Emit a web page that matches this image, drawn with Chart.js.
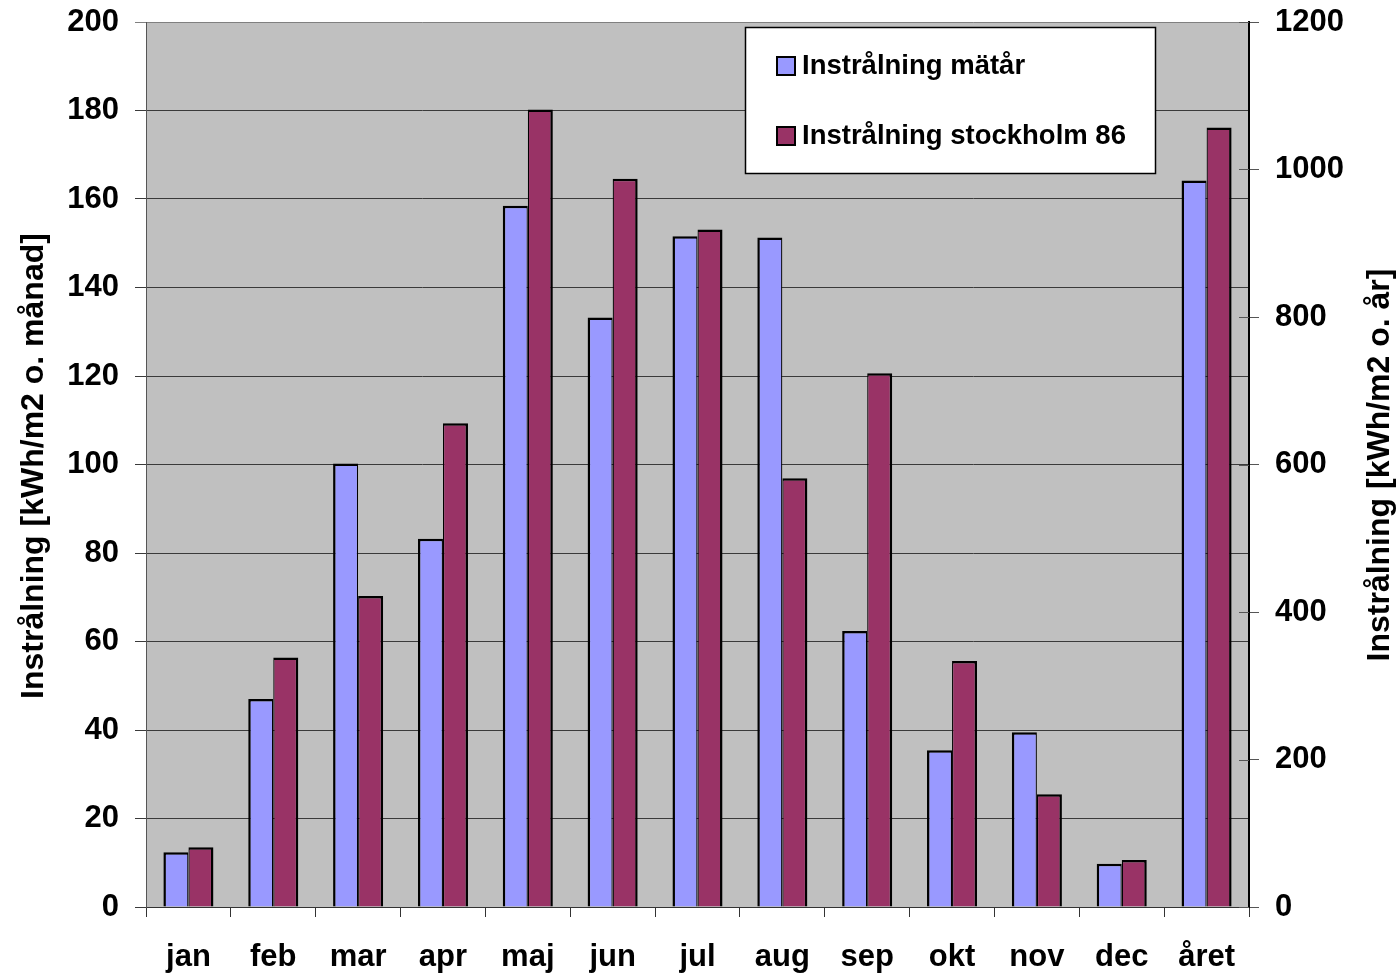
<!DOCTYPE html>
<html>
<head>
<meta charset="utf-8">
<title>Instrålning</title>
<script src="https://cdn.jsdelivr.net/npm/chart.js@4.4.0/dist/chart.umd.min.js"></script>
<style>
    html, body { margin: 0; padding: 0; background: #fff; }
    #wrap { width: 1400px; height: 980px; position: relative; }
</style>
</head>
<body>
<div id="wrap"><canvas id="barChart"></canvas></div>
<script>
// månader + årssumma
const categories = ['jan', 'feb', 'mar', 'apr', 'maj', 'jun', 'jul', 'aug', 'sep', 'okt', 'nov', 'dec', 'året'];
const matarManad = [12.4, 47.0, 100.2, 83.2, 158.5, 133.2, 151.6, 151.3, 62.4, 35.4, 39.5, 9.8];
const stockholmManad = [13.5, 56.4, 70.3, 109.3, 180.2, 164.6, 153.1, 96.9, 120.6, 55.6, 25.5, 10.6];
const matarAr = 985;
const stockholmAr = 1057;
const seriesNames = ['Instrålning mätår', 'Instrålning stockholm 86'];
const leftAxis = { min: 0, max: 200, step: 20, title: 'Instrålning [kWh/m2 o. månad]' };
const rightAxis = { min: 0, max: 1200, step: 200, title: 'Instrålning [kWh/m2 o. år]' };

const FONT = 'Arial, "Liberation Sans", sans-serif';
const BLUE = '#9999FF';
const MAROON = '#993366';
const PLOT_BG = '#C0C0C0';

// månadsvärden på vänster axel, årsvärden på höger
const monthOnly = arr => arr.concat([null]);
const yearOnly = v => categories.map((c, i) => (i === categories.length - 1 ? v : null));

const leftBorder = { top: 2.5, left: 2.5, right: 1.25, bottom: 0 };
const rightBorder = { top: 2.5, left: 1.25, right: 2.5, bottom: 0 };

function noPad(scale) {
    scale.paddingTop = 0;
    scale.paddingBottom = 0;
}

const overlay = {
    id: 'overlay',
    beforeDraw(chart) {
        // grå bakgrund i ritytan
        const a = chart.chartArea;
        chart.ctx.save();
        chart.ctx.fillStyle = PLOT_BG;
        chart.ctx.fillRect(a.left, a.top, a.right - a.left, a.bottom - a.top);
        chart.ctx.restore();
    },
    afterDraw(chart) {
        const ctx = chart.ctx;
        const area = chart.chartArea;
        const y1 = chart.scales.y1;

        // höger axel: tickmarkeringar korsar axeln
        ctx.save();
        ctx.strokeStyle = '#555';
        ctx.lineWidth = 1;
        y1.ticks.forEach(t => {
            const py = Math.round(y1.getPixelForValue(t.value)) + 0.5;
            ctx.beginPath();
            ctx.moveTo(area.right - 10, py);
            ctx.lineTo(area.right, py);
            ctx.stroke();
        });
        ctx.restore();

        // axeltitlar, båda läses nedifrån och upp
        ctx.save();
        ctx.fillStyle = '#000';
        ctx.font = 'bold 32px ' + FONT;
        ctx.textAlign = 'center';
        ctx.textBaseline = 'middle';
        ctx.translate(34, 466);
        ctx.rotate(-Math.PI / 2);
        ctx.fillText(leftAxis.title, 0, 0);
        ctx.restore();

        ctx.save();
        ctx.fillStyle = '#000';
        ctx.font = 'bold 32px ' + FONT;
        ctx.textAlign = 'center';
        ctx.textBaseline = 'middle';
        ctx.translate(1380, 465);
        ctx.rotate(-Math.PI / 2);
        ctx.fillText(rightAxis.title, 0, 0);
        ctx.restore();

        // förklaring
        ctx.save();
        ctx.fillStyle = '#fff';
        ctx.fillRect(745, 27, 410, 146);
        ctx.strokeStyle = '#000';
        ctx.lineWidth = 1.5;
        ctx.strokeRect(745.5, 27.5, 410, 146);
        const rows = [57, 127];
        ctx.font = 'bold 27.5px ' + FONT;
        ctx.textBaseline = 'alphabetic';
        ctx.textAlign = 'left';
        chart.data.datasets.slice(0, 2).forEach((ds, i) => {
            ctx.fillStyle = ds.backgroundColor;
            ctx.fillRect(777, rows[i], 18, 18);
            ctx.strokeStyle = '#000';
            ctx.lineWidth = 2;
            ctx.strokeRect(777, rows[i], 18, 18);
            ctx.fillStyle = '#000';
            ctx.fillText(ds.label, 802, rows[i] + 16.5);
        });
        ctx.restore();
    }
};

const ctx = document.getElementById('barChart').getContext('2d');
new Chart(ctx, {
    type: 'bar',
    data: {
        labels: categories,
        datasets: [
            {
                label: seriesNames[0],
                data: monthOnly(matarManad),
                yAxisID: 'y',
                backgroundColor: BLUE,
                borderColor: '#000',
                borderWidth: leftBorder
            },
            {
                label: seriesNames[1],
                data: monthOnly(stockholmManad),
                yAxisID: 'y',
                backgroundColor: MAROON,
                borderColor: '#000',
                borderWidth: rightBorder
            },
            {
                label: seriesNames[0],
                data: yearOnly(matarAr),
                yAxisID: 'y1',
                backgroundColor: BLUE,
                borderColor: '#000',
                borderWidth: leftBorder
            },
            {
                label: seriesNames[1],
                data: yearOnly(stockholmAr),
                yAxisID: 'y1',
                backgroundColor: MAROON,
                borderColor: '#000',
                borderWidth: rightBorder
            }
        ]
    },
    options: {
        responsive: true,
        maintainAspectRatio: false,
        animation: false,
        layout: { padding: { top: 22, left: 0, right: 0, bottom: 0 } },
        datasets: {
            bar: {
                categoryPercentage: 0.59,
                barPercentage: 1,
                skipNull: true,
                borderSkipped: false
            }
        },
        plugins: {
            legend: { display: false },
            tooltip: { enabled: false }
        },
        scales: {
            x: {
                grid: {
                    offset: true,
                    drawOnChartArea: false,
                    drawTicks: true,
                    tickLength: 10,
                    color: '#333'
                },
                border: { color: '#333', width: 1 },
                ticks: {
                    color: '#000',
                    font: { family: FONT, size: 31, weight: 'bold' },
                    padding: 22,
                    maxRotation: 0,
                    autoSkip: false
                },
                afterFit(scale) {
                    scale.height = 73;
                    scale.paddingLeft = 0;
                    scale.paddingRight = 0;
                }
            },
            y: {
                position: 'left',
                min: leftAxis.min,
                max: leftAxis.max,
                ticks: {
                    stepSize: leftAxis.step,
                    color: '#000',
                    font: { family: FONT, size: 31, weight: 'bold' },
                    padding: 16
                },
                grid: {
                    color: c => (c.tick && c.tick.value === leftAxis.max ? '#808080' : '#3a3a3a'),
                    tickLength: 11,
                    lineWidth: 1
                },
                border: { color: '#555', width: 1 },
                afterFit(scale) {
                    scale.width = 146;
                    noPad(scale);
                }
            },
            y1: {
                position: 'right',
                min: rightAxis.min,
                max: rightAxis.max,
                ticks: {
                    stepSize: rightAxis.step,
                    color: '#000',
                    font: { family: FONT, size: 31, weight: 'bold' },
                    padding: 16,
                    callback: v => String(v)
                },
                grid: {
                    drawOnChartArea: false,
                    tickLength: 10,
                    color: '#555'
                },
                border: { color: '#000', width: 2 },
                afterFit(scale) {
                    scale.width = 151;
                    noPad(scale);
                }
            }
        }
    },
    plugins: [overlay]
});
</script>
</body>
</html>
